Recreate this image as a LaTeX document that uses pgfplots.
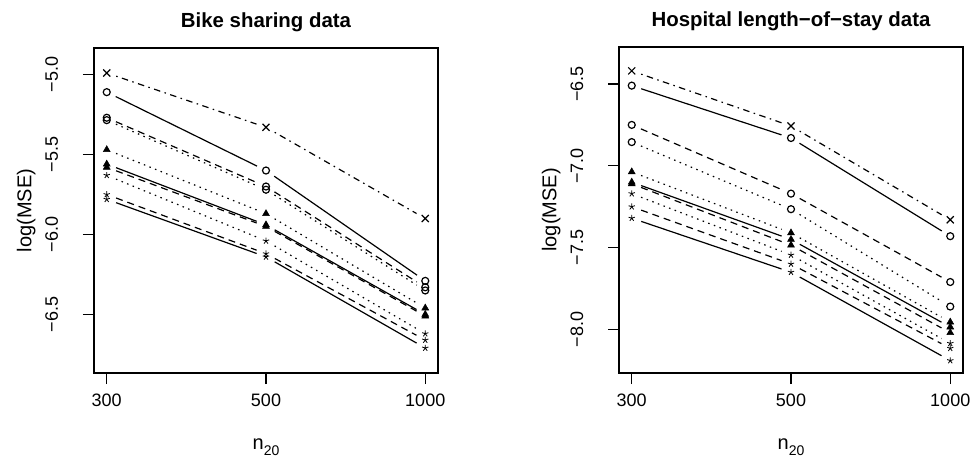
\documentclass[border=0pt]{standalone}
\usepackage{fontspec}
\setmainfont{Liberation Sans}
\usepackage{pgfplots}
\pgfplotsset{compat=1.18}
\usepackage{pgfplotstable}

% columns: X = crosses (dot-dash), C = circles, T = triangles, S = stars
% suffix: s = solid, d = dashed, t = dotted
\pgfplotstableread{
x X Cs Cd Ct Tt Ts Td St Sd Ss
1 -4.99 -5.11 -5.27 -5.285 -5.47 -5.56 -5.58 -5.63 -5.75 -5.78
2 -5.33 -5.60 -5.70 -5.72 -5.87 -5.94 -5.95 -6.04 -6.12 -6.14
3 -5.90 -6.29 -6.33 -6.35 -6.46 -6.50 -6.51 -6.62 -6.66 -6.71
}\bike

\pgfplotstableread{
x X Cs Cd Ct Tt Ts Td St Sd Ss
1 -6.42 -6.51 -6.75 -6.855 -7.037 -7.10 -7.11 -7.17 -7.25 -7.32
2 -6.757 -6.83 -7.17 -7.265 -7.41 -7.45 -7.485 -7.545 -7.60 -7.65
3 -7.33 -7.43 -7.71 -7.86 -7.955 -7.985 -8.02 -8.085 -8.115 -8.19
}\hosp

\pgfplotsset{
  rsolid/.style={black, line width=1.2pt, solid},
  rdash/.style={black, line width=1.2pt, dash pattern=on 7pt off 5pt},
  rdot/.style={black, line width=1.2pt, dash pattern=on 1.5pt off 4.5pt},
  rdotdash/.style={black, line width=1.2pt, dash pattern=on 1.5pt off 4.5pt on 6.5pt off 4.5pt},
  mcirc/.style={mark=o, mark size=3.5pt, mark options={line width=1.2pt}},
  mx/.style={mark=x, mark size=5pt, mark options={line width=1.2pt}},
  mtri/.style={mark=triangle*, mark size=4pt, mark options={line width=0.5pt}},
  mstar/.style={mark=star, mark size=3.3pt, mark options={line width=0.8pt}},
  rpanel/.style={
    scale only axis, width=344pt, height=325pt,
    xmin=0.92, xmax=3.08,
    xtick={1,2,3}, xticklabels={300,500,1000},
    tick align=outside, major tick length=11pt,
    xtick pos=bottom, ytick pos=left,
    axis line style={line width=1.1pt},
    every tick/.style={black, line width=1.1pt},
    tick label style={font=\fontsize{18}{21}\selectfont},
    xticklabel style={anchor=base, inner sep=0pt, yshift=-22pt},
    yticklabel style={xshift=-25pt, rotate=90, anchor=base, inner sep=0pt},
    every axis title/.style={at={(0.5,1)}, anchor=base, yshift=21pt, inner sep=0pt,
      font=\bfseries\fontsize{20.4}{24}\selectfont},
    every axis x label/.style={at={(0.5,0)}, anchor=base, yshift=-76pt, inner sep=0pt,
      font=\fontsize{20}{23}\selectfont},
    every axis y label/.style={at={(-0.1817,0.5)}, rotate=90, anchor=base, inner sep=0pt,
      font=\fontsize{20}{23}\selectfont},
    xlabel={n\raisebox{-0.3em}{\fontsize{14}{16}\selectfont 20}},
    ylabel={log(MSE)},
  },
}

% one series drawn R type="b": segments with gaps at the points, then the marks
\newcommand\rseries[4]{%
  \addplot[#3, restrict x to domain=0.9:2.1, shorten <=10pt, shorten >=10pt] table[x=x, y=#2] {#1};
  \addplot[#3, restrict x to domain=1.9:3.1, shorten <=10pt, shorten >=10pt] table[x=x, y=#2] {#1};
  \addplot[black, only marks, #4] table[x=x, y=#2] {#1};
}

\begin{document}
\begin{tikzpicture}
\path[use as bounding box] (0,0) rectangle (975pt,459pt);

\begin{axis}[rpanel, at={(94pt,86pt)}, anchor=south west,
  title={Bike sharing data},
  ymin=-6.866, ymax=-4.834,
  ytick={-6.5,-6,-5.5,-5}, yticklabels={−6.5,−6.0,−5.5,−5.0}]
  \rseries{\bike}{X}{rdotdash}{mx}
  \rseries{\bike}{Cs}{rsolid}{mcirc}
  \rseries{\bike}{Cd}{rdash}{mcirc}
  \rseries{\bike}{Ct}{rdot}{mcirc}
  \rseries{\bike}{Tt}{rdot}{mtri}
  \rseries{\bike}{Ts}{rsolid}{mtri}
  \rseries{\bike}{Td}{rdash}{mtri}
  \rseries{\bike}{St}{rdot}{mstar}
  \rseries{\bike}{Sd}{rdash}{mstar}
  \rseries{\bike}{Ss}{rsolid}{mstar}
\end{axis}

\begin{axis}[rpanel, at={(619pt,86pt)}, anchor=south west, height=326pt,
  title={Hospital length−of−stay data},
  ymin=-8.266, ymax=-6.274,
  ytick={-8,-7.5,-7,-6.5}, yticklabels={−8.0,−7.5,−7.0,−6.5}]
  \rseries{\hosp}{X}{rdotdash}{mx}
  \rseries{\hosp}{Cs}{rsolid}{mcirc}
  \rseries{\hosp}{Cd}{rdash}{mcirc}
  \rseries{\hosp}{Ct}{rdot}{mcirc}
  \rseries{\hosp}{Tt}{rdot}{mtri}
  \rseries{\hosp}{Ts}{rsolid}{mtri}
  \rseries{\hosp}{Td}{rdash}{mtri}
  \rseries{\hosp}{St}{rdot}{mstar}
  \rseries{\hosp}{Sd}{rdash}{mstar}
  \rseries{\hosp}{Ss}{rsolid}{mstar}
\end{axis}
\end{tikzpicture}
\end{document}
